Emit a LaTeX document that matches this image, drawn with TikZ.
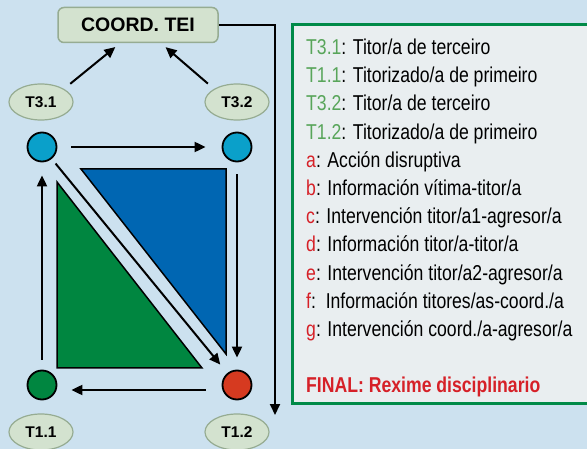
\documentclass[tikz,border=0pt]{standalone}
\usepackage{fontspec}
\setmainfont{Liberation Sans}
\newfontfamily\narrowsans{Liberation Sans}[FakeStretch=0.82]
\usepackage{xcolor}
\usepackage{tikz}
\usetikzlibrary{shapes.geometric, arrows.meta, positioning, calc}

\definecolor{bgblue}{RGB}{204,225,239}
\definecolor{paleback}{RGB}{233,238,240}
\definecolor{sage}{RGB}{211,226,207}
\definecolor{sageline}{RGB}{150,172,146}
\definecolor{legendgreen}{RGB}{0,138,72}
\definecolor{labelgreen}{RGB}{88,165,90}
\definecolor{labelred}{RGB}{214,32,39}
\definecolor{cyanfill}{RGB}{10,160,202}
\definecolor{greenfill}{RGB}{0,134,64}
\definecolor{redfill}{RGB}{214,58,32}
\definecolor{bluefill}{RGB}{0,102,178}

\newcommand{\tg}[1]{\textcolor{labelgreen}{#1}}
\newcommand{\tr}[1]{\textcolor{labelred}{#1}}

\begin{document}
\begin{tikzpicture}[x=1pt, y=-1pt,
    coordbox/.style={draw=sageline, fill=sage, line width=1.5pt, rounded corners=6pt, minimum width=160pt, minimum height=35pt, font=\fontsize{19.5}{22}\selectfont\bfseries},
    tutor/.style={ellipse, draw=sageline, fill=sage, line width=1.2pt, minimum width=64pt, minimum height=36pt, font=\fontsize{15.5}{18}\selectfont\bfseries},
    dot/.style={circle, draw=black, line width=1.8pt, minimum size=29pt, inner sep=0pt},
    tri/.style={draw=black, line width=1.5pt},
    arr/.style={-{Triangle[length=11pt, width=10pt]}, line width=2pt},
    legline/.style={anchor=base west, inner sep=0pt, font=\narrowsans\fontsize{21.5}{26}\selectfont}
]
    \useasboundingbox (0,0) rectangle (587,449);
    \fill[bgblue] (0,0) rectangle (587,449);

    % Coordinacion e titores
    \node[coordbox] (coord) at (138,25) {COORD. TEI};
    \node[tutor] (t31) at (41,102) {T3.1};
    \node[tutor] (t32) at (237,102) {T3.2};
    \node[tutor] (t11) at (41,432) {T1.1};
    \node[tutor] (t12) at (237,432) {T1.2};

    % Circulos
    \node[dot, fill=cyanfill] (c31) at (42,147) {};
    \node[dot, fill=cyanfill] (c32) at (237,147) {};
    \node[dot, fill=greenfill] (c11) at (42,385) {};
    \node[dot, fill=redfill] (c12) at (237,385) {};

    % Triangulos
    \draw[tri, fill=greenfill] (57,182) -- (57,368) -- (202,368) -- cycle;
    \draw[tri, fill=bluefill] (81,169) -- (226,169) -- (226,354) -- cycle;

    % Frechas
    \draw[arr, shorten <=8pt, shorten >=6pt] (t31.north east) -- ([xshift=-18pt]coord.south);
    \draw[arr, shorten <=8pt, shorten >=6pt] (t32.north west) -- ([xshift=23pt]coord.south);
    \draw[arr, shorten <=14pt, shorten >=16pt] (c31) -- (c32);
    \draw[arr, shorten <=16pt, shorten >=14pt] ([yshift=-5pt]c12.west) -- ([yshift=-5pt]c11.east);
    \draw[arr, shorten <=10pt, shorten >=13pt] (c11) -- (c31);
    \draw[arr, shorten <=12pt, shorten >=12pt] (c32) -- (c12);
    \draw[arr, shorten <=6pt, shorten >=11pt] (c31) -- (c12);
    \coordinate (fend) at (275,415);
    \draw[arr] (coord.east) -| (fend);

    % Lenda
    \draw[legendgreen, fill=paleback, line width=3pt] (292,25) rectangle (600,403);
    \foreach \txt [count=\i] in {
        {\tg{T3.1}: Titor/a de terceiro},
        {\tg{T1.1}: Titorizado/a de primeiro},
        {\tg{T3.2}: Titor/a de terceiro},
        {\tg{T1.2}: Titorizado/a de primeiro},
        {\tr{a}: Acción disruptiva},
        {\tr{b}: Información vítima-titor/a},
        {\tr{c}: Intervención titor/a1-agresor/a},
        {\tr{d}: Información titor/a-titor/a},
        {\tr{e}: Intervención titor/a2-agresor/a},
        {\tr{f}:\ \ Información titores/as-coord./a},
        {\tr{g}: Intervención coord./a-agresor/a}}
        \node[legline] (leg\i) at (306,{54.5+(\i-1)*28.2}) {\txt};
    \node[legline, text=labelred, font=\narrowsans\bfseries\fontsize{21.5}{26}\selectfont] (final) at (306,392) {FINAL: Rexime disciplinario};
\end{tikzpicture}
\end{document}
